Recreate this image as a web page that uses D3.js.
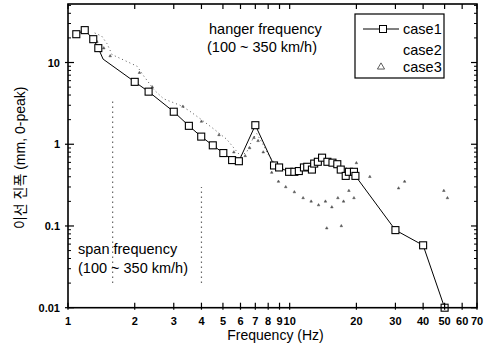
<!DOCTYPE html>
<html><head><meta charset="utf-8">
<script src="https://cdn.jsdelivr.net/npm/d3@7"></script>
<style>body{margin:0;background:#fff}svg{display:block}</style>
</head><body>
<script>
// ---- data ----
const case1Freq = [1.09,1.19,1.30,1.37,1.44,2.0,2.31,3.0,3.51,3.99,4.5,5.02,5.5,5.9,7.0,8.5,8.96,9.94,10.5,11.0,11.6,12.0,12.6,12.9,13.4,14.0,14.8,15.6,16.4,17.0,17.9,18.5,19.5,19.8,30,40,50];
const case1Amp  = [22.2,24.9,19.3,15.0,11.0,5.8,4.4,2.5,1.68,1.24,0.97,0.78,0.64,0.62,1.71,0.55,0.52,0.46,0.46,0.47,0.52,0.53,0.49,0.58,0.61,0.685,0.61,0.595,0.57,0.49,0.41,0.46,0.46,0.41,0.089,0.058,0.01];
const case1Marker = [true,true,true,true,false,true,true,true,true,true,true,true,true,true,true,true,true,true,true,true,true,true,true,true,true,true,true,true,true,true,true,true,true,true,true,true,true];

const case2Freq = [1.32,1.42,1.5,1.58,2.05,2.2,2.45,2.7,3.2,3.5,4.0,4.6,5.2,5.6,6.0,6.4,6.8,7.1,7.5,8.0,8.6,9.3,10.2,11.2,12.3,13.5,14.8,16.2,17.6,19.0,20.5];
const case2Amp  = [23,21,17,12.5,9.0,6.8,4.6,3.6,3.0,2.6,2.0,1.5,1.15,0.9,0.72,0.8,1.15,1.35,1.05,0.75,0.58,0.5,0.45,0.47,0.52,0.6,0.62,0.58,0.52,0.5,0.42];

const case3Freq = [1.35,1.45,1.55,2.1,2.4,3.3,4.0,4.8,5.6,6.0,6.3,6.6,6.9,7.2,7.6,8.3,8.9,9.6,10.5,11.5,12.5,13.5,14.5,15.5,16.5,17.5,18.5,19.5,23,31,49.6,51.5,14.7,17.1,20,33];
const case3Amp  = [18,15,12,7.5,5.0,2.9,1.9,1.3,0.8,0.62,0.72,0.9,1.2,1.1,0.8,0.45,0.35,0.3,0.26,0.22,0.2,0.18,0.2,0.17,0.22,0.2,0.27,0.22,0.4,0.29,0.27,0.22,0.094,0.1,0.59,0.35];

// span frequency markers (freq, low amp, high amp)
const spanFreq = [1.59, 4.0];
const spanLow  = [0.02, 0.02];
const spanHigh = [3.4, 0.3];

const xTicks = [1,2,3,4,5,6,7,8,9,10,20,30,40,50,60,70];
const xTickLabels = ["1","2","3","4","5","6","7","8","9","10","20","30","40","50","60","70"];
const yTicks = [0.01,0.1,1,10];
const yTickLabels = ["0.01","0.1","1","10"];
const legendLabels = ["case1","case2","case3"];

// ---- chart ----
const W = 491, H = 361;
const svg = d3.select("body").append("svg").attr("width", W).attr("height", H)
  .style("font-family","'Liberation Sans', Arial, sans-serif");

const x = d3.scaleLog().domain([1,70]).range([68,477]);
const y = d3.scaleLog().domain([0.01,52]).range([307.7,4]);
const [x0,x1] = x.range(), [y0,y1] = y.range();

const yMinor = [];
[0.01,0.1,1,10].forEach(d => { for (let k=2;k<=9;k++){ const v=d*k; if (v<=52) yMinor.push(v);} });

const g = svg.append("g");

// span dotted lines
g.selectAll("line.span").data(spanFreq).join("line")
  .attr("x1", d=>x(d)).attr("x2", d=>x(d))
  .attr("y1", (d,i)=>y(spanLow[i])).attr("y2",(d,i)=>y(spanHigh[i]))
  .attr("stroke","#666").attr("stroke-width",1.2).attr("stroke-dasharray","1.5,3.5");

// case2 dotted line
const c2 = case2Freq.map((f,i)=>[f,case2Amp[i]]);
g.append("path").datum(c2)
  .attr("d", d3.line().x(d=>x(d[0])).y(d=>y(d[1])))
  .attr("fill","none").attr("stroke","#555").attr("stroke-width",1).attr("stroke-dasharray","1,3");

// case3 triangles
const tri = d3.symbol().type(d3.symbolTriangle).size(3);
g.selectAll("path.c3").data(case3Freq).join("path")
  .attr("transform",(d,i)=>`translate(${x(d)},${y(case3Amp[i])})`)
  .attr("d", tri()).attr("fill","#555").attr("stroke","#555").attr("stroke-width",0.5);

// case1 line + squares
const c1 = case1Freq.map((f,i)=>[f,case1Amp[i],case1Marker[i]]);
g.append("path").datum(c1)
  .attr("d", d3.line().x(d=>x(d[0])).y(d=>y(d[1])))
  .attr("fill","none").attr("stroke","#000").attr("stroke-width",1);
g.selectAll("rect.c1").data(c1.filter(d=>d[2])).join("rect")
  .attr("x",d=>x(d[0])-3.5).attr("y",d=>y(d[1])-3.5)
  .attr("width",7).attr("height",7)
  .attr("fill","#fff").attr("stroke","#000").attr("stroke-width",1.1);

// frame
svg.append("rect").attr("x",x0).attr("y",y1).attr("width",x1-x0).attr("height",y0-y1)
  .attr("fill","none").attr("stroke","#000").attr("stroke-width",1.6);

// axes (inward ticks)
const ax = svg.append("g");
xTicks.forEach(t=>{
  ax.append("line").attr("x1",x(t)).attr("x2",x(t)).attr("y1",y0+2).attr("y2",y0-5).attr("stroke","#000").attr("stroke-width",1.2);
  ax.append("line").attr("x1",x(t)).attr("x2",x(t)).attr("y1",y1).attr("y2",y1+5).attr("stroke","#000").attr("stroke-width",1.2);
});
yTicks.forEach(t=>{
  ax.append("line").attr("x1",x0-3).attr("x2",x0+6).attr("y1",y(t)).attr("y2",y(t)).attr("stroke","#000").attr("stroke-width",1.2);
  ax.append("line").attr("x1",x1-6).attr("x2",x1).attr("y1",y(t)).attr("y2",y(t)).attr("stroke","#000").attr("stroke-width",1.2);
});
yMinor.forEach(t=>{
  ax.append("line").attr("x1",x0).attr("x2",x0+3).attr("y1",y(t)).attr("y2",y(t)).attr("stroke","#000").attr("stroke-width",1);
  ax.append("line").attr("x1",x1-3).attr("x2",x1).attr("y1",y(t)).attr("y2",y(t)).attr("stroke","#000").attr("stroke-width",1);
});

// tick labels
ax.selectAll("text.xt").data(xTicks).join("text")
  .attr("x",d=>x(d)).attr("y",y0+17).attr("text-anchor","middle")
  .attr("font-size",11).attr("font-weight","bold").text((d,i)=>xTickLabels[i]);
ax.selectAll("text.yt").data(yTicks).join("text")
  .attr("x",x0-8).attr("y",d=>y(d)+4).attr("text-anchor","end")
  .attr("font-size",11).attr("font-weight","bold").text((d,i)=>yTickLabels[i]);

// axis titles
svg.append("text").attr("x",(x0+x1)/2+3).attr("y",340).attr("text-anchor","middle")
  .attr("font-size",14).text("Frequency (Hz)");
svg.append("text").attr("transform",`translate(25,${(y0+y1)/2+2}) rotate(-90)`).attr("text-anchor","middle")
  .attr("font-size",14).attr("fill","#000")
  .style("font-family","'Liberation Sans','Noto Sans CJK KR',sans-serif")
  .text("이선 진폭 (mm, 0-peak)");

// annotations
svg.append("text").attr("x",209).attr("y",34).attr("font-size",14.5).text("hanger frequency");
svg.append("text").attr("x",207).attr("y",52).attr("font-size",14.5).text("(100 ~ 350 km/h)");
svg.append("text").attr("x",78).attr("y",254).attr("font-size",14.5).text("span frequency");
svg.append("text").attr("x",78).attr("y",273).attr("font-size",14.5).text("(100 ~ 350 km/h)");

// legend
const lg = svg.append("g");
lg.append("rect").attr("x",355).attr("y",14).attr("width",89).attr("height",64)
  .attr("fill","#fff").attr("stroke","#000").attr("stroke-width",1.2);
const ly = [29,50,67];
lg.append("line").attr("x1",363).attr("x2",399).attr("y1",ly[0]).attr("y2",ly[0]).attr("stroke","#000");
lg.append("rect").attr("x",379.5).attr("y",ly[0]-3.5).attr("width",7).attr("height",7).attr("fill","#fff").attr("stroke","#000");
lg.append("path").attr("transform",`translate(381,${ly[2]})`).attr("d",d3.symbol().type(d3.symbolTriangle).size(22)())
  .attr("fill","none").attr("stroke","#333").attr("stroke-width",0.8);
lg.selectAll("text").data(legendLabels).join("text")
  .attr("x",403).attr("y",(d,i)=>ly[i]+5).attr("font-size",14.5).text(d=>d);
</script>
</body></html>
